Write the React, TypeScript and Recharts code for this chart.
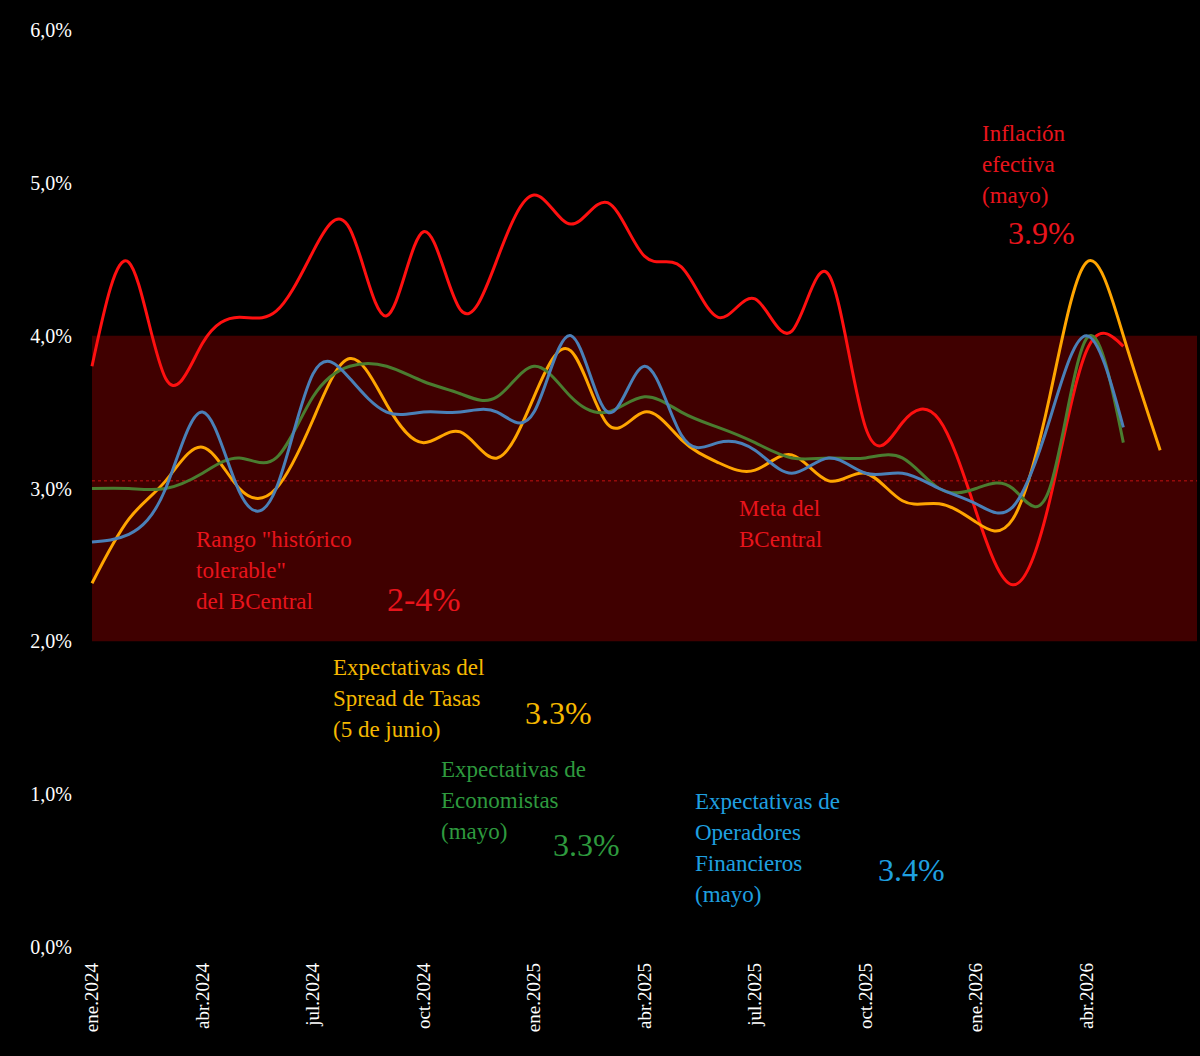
import { ComposedChart, Line, XAxis, YAxis, ReferenceArea, ReferenceLine } from 'recharts';

const months = ['ene.2024', 'abr.2024', 'jul.2024', 'oct.2024', 'ene.2025', 'abr.2025', 'jul.2025', 'oct.2025', 'ene.2026', 'abr.2026'];
const monthTicks = [0, 3, 6, 9, 12, 15, 18, 21, 24, 27];

const inflacion = [3.8, 4.48, 3.72, 3.95, 4.12, 4.16, 4.55, 4.7, 4.13, 4.68, 4.17, 4.5, 4.92, 4.73, 4.87, 4.52, 4.45, 4.12, 4.24, 4.03, 4.4, 3.4, 3.43, 3.45, 2.85, 2.37, 2.92, 3.9, 3.93];
const spread = [2.38, 2.8, 3.05, 3.27, 3.0, 3.0, 3.45, 3.85, 3.55, 3.3, 3.37, 3.2, 3.6, 3.9, 3.42, 3.5, 3.32, 3.17, 3.12, 3.22, 3.05, 3.1, 2.92, 2.9, 2.78, 2.8, 3.6, 4.48, 4.0, 3.25];
const operadores = [2.65, 2.7, 3.0, 3.5, 2.98, 3.0, 3.75, 3.72, 3.5, 3.5, 3.5, 3.5, 3.5, 4.0, 3.5, 3.8, 3.35, 3.3, 3.25, 3.1, 3.2, 3.1, 3.1, 3.0, 2.9, 2.88, 3.45, 4.0, 3.4];
const economistas = [3.0, 3.0, 3.0, 3.1, 3.2, 3.2, 3.6, 3.8, 3.8, 3.7, 3.62, 3.6, 3.8, 3.6, 3.5, 3.6, 3.5, 3.4, 3.3, 3.2, 3.2, 3.2, 3.2, 3.0, 3.0, 3.0, 3.0, 3.98, 3.3];
const yTicks = [0, 1, 2, 3, 4, 5, 6];

const data = spread.map((s, i) => ({
  m: i,
  inflacion: inflacion[i],
  spread: s,
  operadores: operadores[i],
  economistas: economistas[i],
}));

const font = '"Liberation Serif", "DejaVu Serif", serif';
const RED = '#e8141c';
const YEL = '#f5b800';
const GRN = '#2e9a3e';
const BLU = '#1fa0e0';

const XTick = ({ x, y, payload }: any) => (
  <text x={x} y={y + 8} transform={`rotate(-90 ${x} ${y + 8})`} dy={6} textAnchor="end" fill="#fff" fontSize={19} fontFamily={font}>
    {months[monthTicks.indexOf(payload.value)]}
  </text>
);

const Note = ({ x, y, color, size = 23, lines }: any) => (
  <div style={{ position: 'absolute', left: x, top: y, color, fontSize: size, lineHeight: '31px', fontFamily: font, whiteSpace: 'nowrap' }}>
    {lines.map((l: string, i: number) => <div key={i}>{l}</div>)}
  </div>
);

export default function App() {
  return (
    <div style={{ position: 'absolute', left: 0, top: 0, width: 1200, height: 1056, background: '#000' }}>
      <ComposedChart width={1200} height={1056} data={data} margin={{ top: 30, right: 3, left: 0, bottom: 0 }}>
        <ReferenceArea y1={2} y2={4} fill="#400000" fillOpacity={1} stroke="none" />
        <ReferenceLine y={3.05} stroke="#c01010" strokeDasharray="3 3" strokeWidth={1} />
        <XAxis dataKey="m" type="number" domain={[0, 30]} ticks={monthTicks} tick={<XTick />} axisLine={false} tickLine={false} height={109} interval={0} />
        <YAxis domain={[0, 6]} ticks={yTicks} width={92} axisLine={false} tickLine={false}
          tick={{ fill: '#fff', fontSize: 20, fontFamily: font, dx: -12 }}
          tickFormatter={(v) => `${v.toFixed(1).replace('.', ',')}%`} />
        <Line type="natural" dataKey="inflacion" stroke="#ff1010" strokeWidth={3} dot={false} isAnimationActive={false} />
        <Line type="natural" dataKey="spread" stroke="#ffa500" strokeWidth={3} dot={false} isAnimationActive={false} />
        <Line type="natural" dataKey="economistas" stroke="#4a7d30" strokeWidth={3} dot={false} isAnimationActive={false} />
        <Line type="natural" dataKey="operadores" stroke="#4a80b8" strokeWidth={3} dot={false} isAnimationActive={false} />
      </ComposedChart>
      <Note x={982} y={118} color={RED} lines={['Inflación', 'efectiva', '(mayo)']} />
      <Note x={1008} y={218} color={RED} size={32} lines={['3.9%']} />
      <Note x={196} y={524} color={RED} lines={['Rango "histórico', 'tolerable"', 'del BCentral']} />
      <Note x={387} y={584} color={RED} size={34} lines={['2-4%']} />
      <Note x={739} y={493} color={RED} lines={['Meta del', 'BCentral']} />
      <Note x={333} y={652} color={YEL} lines={['Expectativas del', 'Spread de Tasas', '(5 de junio)']} />
      <Note x={525} y={698} color={YEL} size={32} lines={['3.3%']} />
      <Note x={441} y={754} color={GRN} lines={['Expectativas de', 'Economistas', '(mayo)']} />
      <Note x={553} y={830} color={GRN} size={32} lines={['3.3%']} />
      <Note x={695} y={786} color={BLU} lines={['Expectativas de', 'Operadores', 'Financieros', '(mayo)']} />
      <Note x={878} y={855} color={BLU} size={32} lines={['3.4%']} />
    </div>
  );
}
